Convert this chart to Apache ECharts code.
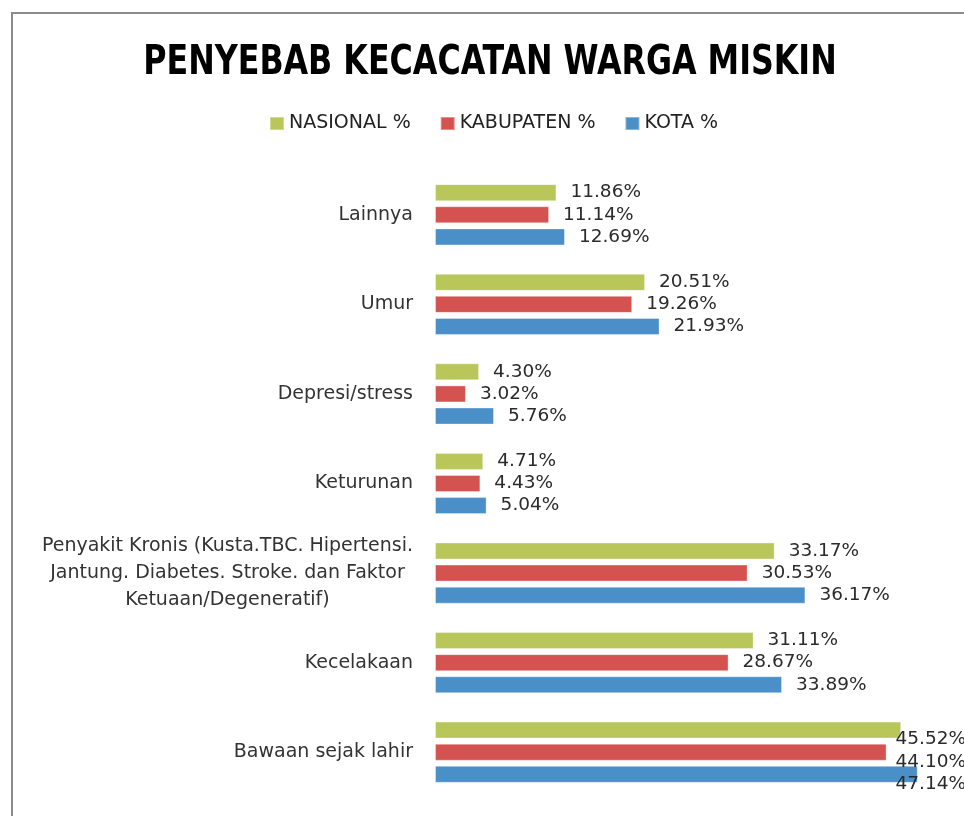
<!DOCTYPE html>
<html>
<head>
    <meta charset="utf-8">
    <script src="https://cdn.jsdelivr.net/npm/echarts@6/dist/echarts.min.js"></script>
    <style>
        html, body { margin: 0; padding: 0; background: #fff; }
    </style>
</head>
<body>
    <div id="main" style="width: 964px;height:816px;"></div>
    <script type="text/javascript">
        // data (bottom to top, as the y axis runs)
        var categories = [
            'Bawaan sejak lahir',
            'Kecelakaan',
            'Penyakit Kronis (Kusta.TBC. Hipertensi.\nJantung. Diabetes. Stroke. dan Faktor\nKetuaan/Degeneratif)',
            'Keturunan',
            'Depresi/stress',
            'Umur',
            'Lainnya'
        ];
        var nasional = [45.52, 31.11, 33.17, 4.71, 4.30, 20.51, 11.86];
        var kabupaten = [44.10, 28.67, 30.53, 4.43, 3.02, 19.26, 11.14];
        var kota = [47.14, 33.89, 36.17, 5.04, 5.76, 21.93, 12.69];
        var seriesNames = ['NASIONAL %', 'KABUPATEN %', 'KOTA %'];
        var titleText = 'PENYEBAB KECACATAN WARGA MISKIN';

        var colors = { 'NASIONAL %': '#B8C65A', 'KABUPATEN %': '#D45350', 'KOTA %': '#4A8FC7' };

        var myChart = echarts.init(document.getElementById('main'));

        function barSeries(name, data) {
            return {
                name: name,
                type: 'bar',
                data: data,
                barWidth: 17,
                barGap: '30%',
                itemStyle: { color: colors[name], borderColor: 'rgba(255,255,255,0.35)', borderWidth: 1 },
                label: {
                    show: true,
                    position: 'right',
                    distance: 14,
                    color: '#2b2b2b',
                    fontFamily: 'DejaVu Sans',
                    fontSize: 18.5,
                    formatter: function (p) { return p.value.toFixed(2) + '%'; }
                },
                labelLayout: function (params) {
                    var r = params.labelRect;
                    // keep labels inside the chart area, like the original
                    if (r.x + r.width > 966) {
                        return { x: 966 - r.width };
                    }
                    return {};
                }
            };
        }

        myChart.setOption({
            animation: false,
            legend: {
                data: seriesNames,
                left: 264,
                top: 109,
                itemWidth: 14,
                itemHeight: 13,
                itemGap: 29,
                icon: 'rect',
                textStyle: {
                    fontFamily: 'DejaVu Sans',
                    fontSize: 19,
                    color: '#222'
                }
            },
            graphic: [{
                type: 'rect',
                shape: { x: 12, y: 13, width: 1000, height: 900 },
                style: { fill: 'none', stroke: '#8c8c8c', lineWidth: 2 },
                silent: true
            }, {
                // title, squeezed like the narrow bold font of the original
                type: 'text',
                x: 490,
                y: 63,
                scaleX: 0.86,
                silent: true,
                style: {
                    text: titleText,
                    fontFamily: '"DejaVu Sans Condensed", "DejaVu Sans", sans-serif',
                    fontWeight: 'bold',
                    fontSize: 41,
                    fill: '#000',
                    textAlign: 'center',
                    textVerticalAlign: 'middle'
                }
            }],
            grid: {
                left: 435,
                right: 17,
                top: 170,
                bottom: 19
            },
            xAxis: {
                type: 'value',
                min: 0,
                max: 50,
                show: false
            },
            yAxis: {
                type: 'category',
                data: categories,
                axisLine: { show: false },
                axisTick: { show: false },
                axisLabel: {
                    margin: 22,
                    color: '#333',
                    fontFamily: 'DejaVu Sans',
                    fontSize: 19,
                    lineHeight: 27,
                    formatter: function (v) {
                        return v.split('\n').map(function (s) { return '{c|' + s + '}'; }).join('\n');
                    },
                    rich: {
                        c: {
                            align: 'center',
                            color: '#333',
                            fontFamily: 'DejaVu Sans',
                            fontSize: 19,
                            lineHeight: 27
                        }
                    }
                }
            },
            series: [
                barSeries('NASIONAL %', nasional),
                barSeries('KABUPATEN %', kabupaten),
                barSeries('KOTA %', kota)
            ]
        });
    </script>
</body>
</html>
